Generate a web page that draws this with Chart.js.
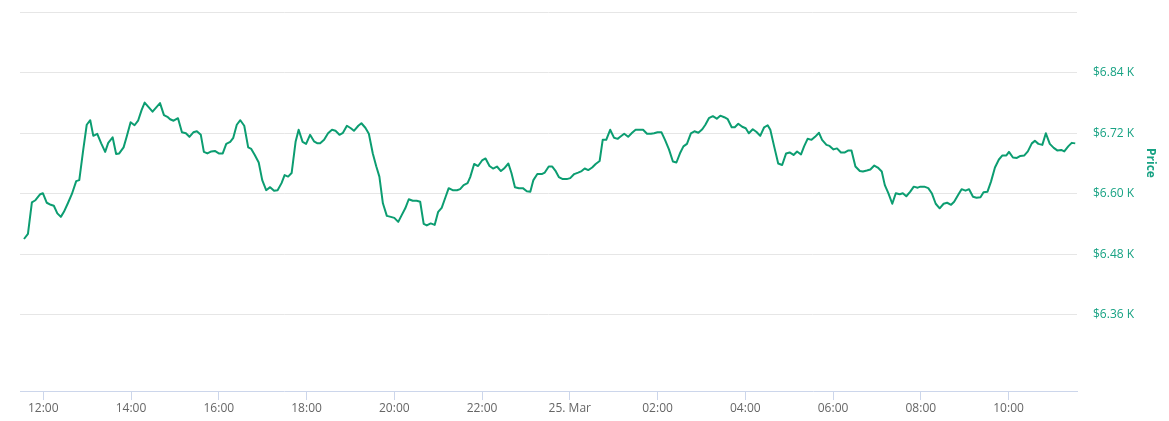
<!DOCTYPE html>
<html>
<head>
<meta charset="utf-8">
<script src="https://cdn.jsdelivr.net/npm/chart.js@4/dist/chart.umd.min.js"></script>
<style>
  html, body { margin: 0; padding: 0; background: #fff; }
  #wrap { width: 1169px; height: 421px; position: relative; }
</style>
</head>
<body>
<div id="wrap"><canvas id="price-chart"></canvas></div>
<script>
// hours counted from 24 Mar 00:00
const times = [
  11.56, 11.65, 11.74, 11.82, 11.93, 11.99, 12.08, 12.17, 12.24, 12.32, 12.40, 12.47, 12.56, 12.65, 12.75, 12.82, 12.91, 12.99, 13.07, 13.14,
  13.23, 13.32, 13.41, 13.48, 13.58, 13.66, 13.73, 13.83, 13.90, 13.99, 14.08, 14.16, 14.24, 14.31, 14.40, 14.49, 14.59, 14.66, 14.75, 14.84,
  14.89, 14.97, 15.07, 15.16, 15.25, 15.33, 15.42, 15.50, 15.59, 15.66, 15.74, 15.83, 15.91, 16.00, 16.09, 16.17, 16.26, 16.33, 16.41, 16.49,
  16.58, 16.67, 16.74, 16.82, 16.91, 16.99, 17.08, 17.17, 17.26, 17.34, 17.43, 17.50, 17.58, 17.66, 17.75, 17.82, 17.91, 17.99, 18.08, 18.17,
  18.25, 18.31, 18.40, 18.49, 18.58, 18.66, 18.75, 18.83, 18.92, 19.01, 19.08, 19.18, 19.25, 19.34, 19.42, 19.51, 19.59, 19.66, 19.74, 19.83,
  19.92, 20.00, 20.09, 20.16, 20.25, 20.33, 20.42, 20.51, 20.59, 20.67, 20.74, 20.83, 20.92, 21.00, 21.08, 21.17, 21.24, 21.33, 21.43, 21.50,
  21.58, 21.67, 21.73, 21.82, 21.91, 22.00, 22.08, 22.17, 22.25, 22.34, 22.43, 22.50, 22.60, 22.67, 22.75, 22.84, 22.93, 23.02, 23.10, 23.17,
  23.26, 23.36, 23.43, 23.52, 23.60, 23.67, 23.75, 23.84, 23.93, 24.01, 24.10, 24.19, 24.27, 24.34, 24.42, 24.51, 24.59, 24.68, 24.75, 24.83,
  24.92, 25.01, 25.09, 25.15, 25.24, 25.33, 25.42, 25.50, 25.59, 25.67, 25.76, 25.85, 25.92, 26.00, 26.09, 26.17, 26.26, 26.35, 26.43, 26.52,
  26.59, 26.67, 26.76, 26.84, 26.93, 27.02, 27.09, 27.17, 27.26, 27.35, 27.43, 27.52, 27.60, 27.69, 27.76, 27.84, 27.93, 28.01, 28.08, 28.17,
  28.25, 28.34, 28.43, 28.51, 28.57, 28.66, 28.75, 28.84, 28.93, 29.01, 29.10, 29.18, 29.27, 29.34, 29.42, 29.51, 29.59, 29.68, 29.75, 29.85,
  29.92, 30.01, 30.09, 30.18, 30.27, 30.35, 30.42, 30.51, 30.61, 30.68, 30.77, 30.85, 30.94, 31.02, 31.11, 31.18, 31.26, 31.35, 31.43, 31.52,
  31.59, 31.67, 31.76, 31.84, 31.93, 31.99, 32.08, 32.17, 32.25, 32.34, 32.43, 32.52, 32.60, 32.69, 32.76, 32.86, 32.93, 33.02, 33.10, 33.19,
  33.27, 33.36, 33.43, 33.52, 33.60, 33.69, 33.78, 33.86, 33.95, 34.01, 34.10, 34.19, 34.27, 34.36, 34.44, 34.53, 34.60, 34.68, 34.77, 34.85,
  34.94, 35.03, 35.11, 35.20, 35.27, 35.36, 35.44, 35.52
];
const prices = [
  6510, 6520, 6583, 6587, 6599, 6601, 6582, 6578, 6576, 6561, 6554, 6564, 6581, 6599, 6625, 6627, 6687, 6737, 6746, 6715,
  6719, 6700, 6683, 6701, 6712, 6679, 6680, 6692, 6713, 6742, 6736, 6745, 6766, 6781, 6772, 6763, 6773, 6780, 6756, 6752,
  6748, 6745, 6750, 6722, 6720, 6713, 6722, 6724, 6717, 6683, 6680, 6684, 6685, 6680, 6680, 6699, 6703, 6711, 6737, 6746,
  6735, 6692, 6689, 6677, 6662, 6627, 6607, 6613, 6606, 6607, 6621, 6637, 6634, 6641, 6703, 6727, 6703, 6699, 6717, 6704,
  6700, 6700, 6707, 6720, 6727, 6725, 6717, 6721, 6735, 6730, 6725, 6735, 6740, 6731, 6719, 6680, 6654, 6634, 6581, 6556,
  6554, 6552, 6544, 6556, 6571, 6589, 6586, 6586, 6584, 6540, 6537, 6541, 6538, 6564, 6572, 6594, 6611, 6607, 6607, 6609,
  6617, 6621, 6633, 6659, 6655, 6666, 6670, 6655, 6650, 6654, 6645, 6650, 6660, 6641, 6613, 6611, 6611, 6605, 6604, 6627,
  6639, 6639, 6642, 6654, 6654, 6646, 6633, 6629, 6629, 6631, 6639, 6642, 6645, 6650, 6647, 6652, 6659, 6665, 6707, 6707,
  6727, 6711, 6709, 6713, 6719, 6713, 6721, 6727, 6727, 6727, 6719, 6719, 6720, 6722, 6722, 6707, 6688, 6664, 6662, 6682,
  6694, 6699, 6720, 6724, 6721, 6728, 6737, 6750, 6754, 6749, 6755, 6752, 6748, 6732, 6732, 6739, 6733, 6730, 6720, 6728,
  6723, 6715, 6732, 6736, 6727, 6693, 6660, 6657, 6680, 6682, 6677, 6684, 6678, 6694, 6709, 6707, 6713, 6721, 6707, 6697,
  6695, 6688, 6690, 6682, 6682, 6686, 6686, 6654, 6645, 6644, 6646, 6648, 6656, 6652, 6644, 6617, 6601, 6580, 6601, 6599,
  6601, 6595, 6604, 6614, 6612, 6614, 6614, 6611, 6601, 6580, 6571, 6580, 6582, 6578, 6584, 6599, 6609, 6606, 6609, 6594,
  6592, 6593, 6603, 6604, 6624, 6652, 6668, 6676, 6676, 6683, 6672, 6671, 6675, 6676, 6684, 6700, 6705, 6699, 6697, 6720,
  6699, 6691, 6686, 6687, 6684, 6694, 6701, 6700
];

const xTickHours = [12, 14, 16, 18, 20, 22, 24, 26, 28, 30, 32, 34];
const xTickLabels = ['12:00', '14:00', '16:00', '18:00', '20:00', '22:00', '25. Mar', '02:00', '04:00', '06:00', '08:00', '10:00'];
const yTickValues = [6360, 6480, 6600, 6720, 6840, 6960];
const yTickLabels = ['$6.36 K', '$6.48 K', '$6.60 K', '$6.72 K', '$6.84 K', ''];

const green = '#0c9d71';
const labelGreen = '#17a283';

// axis title drawn by hand so it sits where the original has it
const priceTitle = {
    id: 'priceTitle',
    afterDraw(chart) {
        const ctx = chart.ctx;
        ctx.save();
        ctx.translate(1150, 163);
        ctx.rotate(Math.PI / 2);
        ctx.font = 'bold 12px "Open Sans"';
        ctx.fillStyle = labelGreen;
        ctx.textAlign = 'center';
        ctx.textBaseline = 'middle';
        ctx.fillText('Price', 0, 0);
        ctx.restore();
    }
};

const points = times.map((t, i) => ({ x: t, y: prices[i] }));

new Chart(document.getElementById('price-chart'), {
    type: 'line',
    data: {
        datasets: [{
            label: 'Price',
            data: points,
            borderColor: green,
            borderWidth: 2,
            pointRadius: 0,
            tension: 0,
            borderJoinStyle: 'round',
            fill: false
        }]
    },
    options: {
        responsive: true,
        maintainAspectRatio: false,
        animation: false,
        layout: { padding: { left: 20, top: 11, right: 0, bottom: 0 } },
        plugins: {
            legend: { display: false },
            tooltip: { enabled: false }
        },
        scales: {
            x: {
                type: 'linear',
                min: 11.469,
                max: 35.56,
                afterBuildTicks: (scale) => {
                    scale.ticks = xTickHours.map(v => ({ value: v }));
                },
                afterFit: (scale) => {
                    scale.height = 30;
                    scale.paddingLeft = 0;
                    scale.paddingRight = 0;
                },
                ticks: {
                    autoSkip: false,
                    maxRotation: 0,
                    color: '#666666',
                    font: { family: 'Open Sans', size: 12 },
                    padding: 1,
                    callback: (v) => xTickLabels[xTickHours.indexOf(v)]
                },
                grid: {
                    drawOnChartArea: false,
                    drawTicks: true,
                    tickLength: 9,
                    tickColor: '#ccd6eb'
                },
                border: { color: '#ccd6eb', width: 1 }
            },
            y: {
                position: 'right',
                min: 6208,
                max: 6963,
                afterBuildTicks: (scale) => {
                    scale.ticks = yTickValues.map(v => ({ value: v }));
                },
                afterFit: (scale) => {
                    scale.width = 92;
                    scale.paddingTop = 0;
                    scale.paddingBottom = 0;
                },
                ticks: {
                    color: labelGreen,
                    font: { family: 'Open Sans', size: 12 },
                    padding: 16,
                    callback: (v) => yTickLabels[yTickValues.indexOf(v)]
                },
                grid: {
                    color: '#e6e6e6',
                    drawTicks: false
                },
                border: { display: false }
            }
        }
    },
    plugins: [priceTitle]
});
</script>
</body>
</html>
